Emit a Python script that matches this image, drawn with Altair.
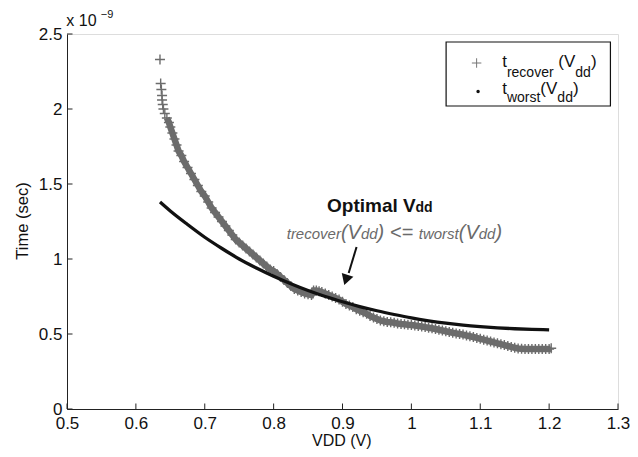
import altair as alt
import pandas as pd

# ---------------- data ----------------
v_rec = [0.635, 0.636, 0.637, 0.638, 0.638, 0.639, 0.640, 0.642, 0.645, 0.648, 0.650, 0.653, 0.656, 0.659,
         0.662, 0.666, 0.670, 0.675, 0.680, 0.685, 0.690, 0.695, 0.700, 0.705, 0.710, 0.715, 0.720, 0.725,
         0.730, 0.735, 0.740, 0.745, 0.750, 0.755, 0.760, 0.765, 0.770, 0.775, 0.780, 0.785, 0.790, 0.795,
         0.800, 0.805, 0.810, 0.815, 0.820, 0.825, 0.830, 0.835, 0.840, 0.845, 0.850, 0.855, 0.858, 0.862,
         0.866, 0.870, 0.875, 0.880, 0.885, 0.890, 0.895, 0.900, 0.905, 0.910, 0.915, 0.920, 0.925, 0.930,
         0.935, 0.940, 0.945, 0.950, 0.955, 0.960, 0.965, 0.970, 0.975, 0.980, 0.985, 0.990, 0.995, 1.000,
         1.005, 1.010, 1.015, 1.020, 1.025, 1.030, 1.035, 1.040, 1.045, 1.050, 1.055, 1.060, 1.065, 1.070,
         1.075, 1.080, 1.085, 1.090, 1.095, 1.100, 1.105, 1.110, 1.115, 1.120, 1.125, 1.130, 1.135, 1.140,
         1.145, 1.150, 1.155, 1.160, 1.165, 1.170, 1.175, 1.180, 1.185, 1.190, 1.195, 1.200, 1.203]
t_rec = [2.33, 2.17, 2.13, 2.09, 2.06, 2.03, 2.00, 1.97, 1.94, 1.91, 1.88, 1.84, 1.80, 1.76,
         1.72, 1.69, 1.65, 1.61, 1.57, 1.53, 1.49, 1.45, 1.42, 1.38, 1.34, 1.31, 1.28, 1.25,
         1.22, 1.19, 1.16, 1.13, 1.11, 1.09, 1.07, 1.05, 1.03, 1.01, 0.99, 0.97, 0.95, 0.93,
         0.92, 0.90, 0.88, 0.86, 0.84, 0.82, 0.80, 0.79, 0.78, 0.77, 0.765, 0.76, 0.79, 0.79,
         0.785, 0.78, 0.77, 0.76, 0.75, 0.74, 0.73, 0.715, 0.70, 0.69, 0.68, 0.665, 0.655, 0.645,
         0.635, 0.62, 0.61, 0.60, 0.59, 0.585, 0.58, 0.578, 0.575, 0.57, 0.567, 0.565, 0.562, 0.56,
         0.557, 0.553, 0.55, 0.546, 0.542, 0.538, 0.533, 0.528, 0.523, 0.518, 0.513, 0.508, 0.504, 0.50,
         0.496, 0.49, 0.485, 0.48, 0.474, 0.468, 0.462, 0.456, 0.45, 0.444, 0.438, 0.432, 0.426, 0.42,
         0.414, 0.408, 0.404, 0.402, 0.40, 0.40, 0.40, 0.40, 0.40, 0.40, 0.40, 0.40, 0.405]

v_worst = [0.635, 0.65, 0.675, 0.70, 0.725, 0.75, 0.775, 0.80, 0.825, 0.85, 0.875, 0.90, 0.925,
           0.95, 0.975, 1.00, 1.025, 1.05, 1.075, 1.10, 1.125, 1.15, 1.175, 1.20]
t_worst = [1.38, 1.32, 1.23, 1.145, 1.07, 1.00, 0.94, 0.885, 0.835, 0.79, 0.75, 0.715, 0.683,
           0.655, 0.63, 0.607, 0.588, 0.572, 0.559, 0.549, 0.541, 0.535, 0.531, 0.528]

x_ticks = [0.5, 0.6, 0.7, 0.8, 0.9, 1.0, 1.1, 1.2, 1.3]
y_ticks = [0, 0.5, 1.0, 1.5, 2.0, 2.5]

arrow_v = [0.9204, 0.909]
arrow_t = [1.08, 0.907]
arrow_head_v = [0.905]
arrow_head_t = [0.86]

# ---------------- layout ----------------
W, H = 551, 375
SX = W / 560.0           # horizontal scale relative to the reference plot width
OX, OY = 66.7, 34.0      # plot origin in page pixels
FONT = "Liberation Sans"
GRAY = "#6c6c6c"

# Arial / Liberation Sans advance widths (em) for the chained rich-text pieces
CW = {"t": .278, "r": .333, "e": .556, "c": .5, "o": .556, "v": .5, "w": .722, "s": .5,
      "(": .333, ")": .333, "V": .667, "d": .556, "<": .584, "=": .584, " ": .278}


def tw(s, size):
    return sum(CW[c] for c in s) * size


def px(x):
    return (x - OX) * SX


def py(y):
    return y - OY


rec_df = pd.DataFrame({"v": v_rec, "t": t_rec})
worst_df = pd.DataFrame({"v": v_worst, "t": t_worst})
xt_df = pd.DataFrame({"v": x_ticks})
yt_df = pd.DataFrame({"t": y_ticks})
arrow_df = pd.DataFrame({"v": arrow_v, "t": arrow_t})
head_df = pd.DataFrame({"v": arrow_head_v, "t": arrow_head_t})
one_df = pd.DataFrame({"k": [0]})

xscale = alt.Scale(domain=[0.5, 1.3], nice=False, zero=False)
yscale = alt.Scale(domain=[0, 2.5], nice=False)

xaxis = alt.Axis(values=x_ticks, format="~g", ticks=False, grid=False, domainColor="#222",
                 labelFont=FONT, labelFontSize=17, labelColor="#111", labelPadding=6,
                 labelFlush=False, labelOverlap=False, title=None)
yaxis = alt.Axis(values=y_ticks, format="~g", ticks=False, grid=False, domainColor="#222",
                 labelFont=FONT, labelFontSize=17, labelColor="#111", labelPadding=5,
                 labelFlush=False, labelOverlap=False, title=None)

CROSS = "M-1,0L1,0M0,-1L0,1"

rec_band = alt.Chart(rec_df).transform_filter("datum.t < 1.95").mark_line(
    color=GRAY, strokeWidth=6.5, strokeCap="butt").encode(
    x=alt.X("v:Q", scale=xscale, axis=xaxis),
    y=alt.Y("t:Q", scale=yscale, axis=yaxis),
)
rec = alt.Chart(rec_df).mark_point(shape=CROSS, size=100, strokeWidth=1.4, color=GRAY, opacity=1).encode(
    x=alt.X("v:Q", scale=xscale),
    y=alt.Y("t:Q", scale=yscale),
)

worst = alt.Chart(worst_df).mark_line(color="#111", strokeWidth=3.3, interpolate="monotone").encode(
    x=alt.X("v:Q", scale=xscale),
    y=alt.Y("t:Q", scale=yscale),
)

xticks = alt.Chart(xt_df).mark_rule(color="#222", strokeWidth=1).encode(
    x=alt.X("v:Q", scale=xscale), y=alt.value(H), y2=alt.value(H - 5.5))
yticks = alt.Chart(yt_df).mark_rule(color="#222", strokeWidth=1).encode(
    y=alt.Y("t:Q", scale=yscale), x=alt.value(0), x2=alt.value(5.5))

arrow_line = alt.Chart(arrow_df).mark_line(color="#111", strokeWidth=2).encode(
    x=alt.X("v:Q", scale=xscale), y=alt.Y("t:Q", scale=yscale))
arrow_head = alt.Chart(head_df).mark_point(shape="triangle-down", size=150, filled=True,
                                           color="#111", opacity=1, angle=18).encode(
    x=alt.X("v:Q", scale=xscale), y=alt.Y("t:Q", scale=yscale))

layers = [rec_band, rec, worst, xticks, yticks, arrow_line, arrow_head]

# legend box
layers.append(alt.Chart(one_df).mark_rect(fill="white", stroke="#111", strokeWidth=1.2).encode(
    x=alt.value(px(452)), x2=alt.value(px(619)), y=alt.value(py(42)), y2=alt.value(py(106))))
layers.append(alt.Chart(one_df).mark_point(shape=CROSS, size=90, strokeWidth=1, color="#777", opacity=1).encode(
    x=alt.value(px(483)), y=alt.value(py(63))))
layers.append(alt.Chart(one_df).mark_circle(size=12, color="#111", opacity=1).encode(
    x=alt.value(px(484.5)), y=alt.value(py(91.5))))


def txt(s, x, y, size, color="#111", style="normal", weight="normal", align="left", angle=0):
    return alt.Chart(one_df).mark_text(text=s, align=align, baseline="alphabetic", font=FONT,
                                       fontSize=size, color=color, fontStyle=style,
                                       fontWeight=weight, angle=angle).encode(
        x=alt.value(x), y=alt.value(py(y)))


def chain(pieces, x0, **kw):
    """pieces: (text, baseline_y, size); laid out left to right, spaces only advance."""
    out = []
    x = px(x0)
    for s, y, size in pieces:
        core = s.strip()
        lead = s[: len(s) - len(s.lstrip())]
        trail = s[len(s.rstrip()):]
        x += tw(lead, size)
        if core:
            out.append(txt(core, x, y, size, **kw))
        x += tw(core, size) + tw(trail, size)
    return out


# legend texts
MAIN, SUB = 17, 14
layers += chain([("t", 67, MAIN), ("recover", 77, SUB), (" (V", 67, MAIN), ("dd", 77, SUB), (")", 67, MAIN)], 509)
layers += chain([("t", 94, MAIN), ("worst", 102, SUB), ("(V", 94, MAIN), ("dd", 102, SUB), (")", 94, MAIN)], 509)

# annotation
layers.append(txt("Optimal V", px(331), 212, 19, weight="bold"))
layers.append(txt("dd", px(331) + 88.5, 212, 14, weight="bold"))
B, S = 20, 15
layers += chain([("trecover", 239, S), ("(V", 239, B), ("dd", 239, S), (")", 239, B), (" <= ", 239, B),
                 ("tworst", 239, S), ("(V", 239, B), ("dd", 239, S), (")", 239, B)], 290,
                color="#6a6a6a", style="italic")

# exponent
layers.append(txt("x 10", px(66), 26, 16))
layers.append(txt("\u22129", px(101), 18, 11))

# axis titles
layers.append(txt("VDD (V)", px(346), 446, 16, align="center"))
layers.append(txt("Time (sec)", px(27), 221, 16.5, align="center", angle=270))

chart = alt.layer(*layers).properties(
    width=W, height=H,
    padding={"left": 59, "top": 26, "right": 12, "bottom": 40},
    autosize=alt.AutoSizeParams(type="none"),
).configure_view(stroke=None).configure(background="white")

chart.save("out.html", embed_options={"renderer": "svg", "actions": False})
